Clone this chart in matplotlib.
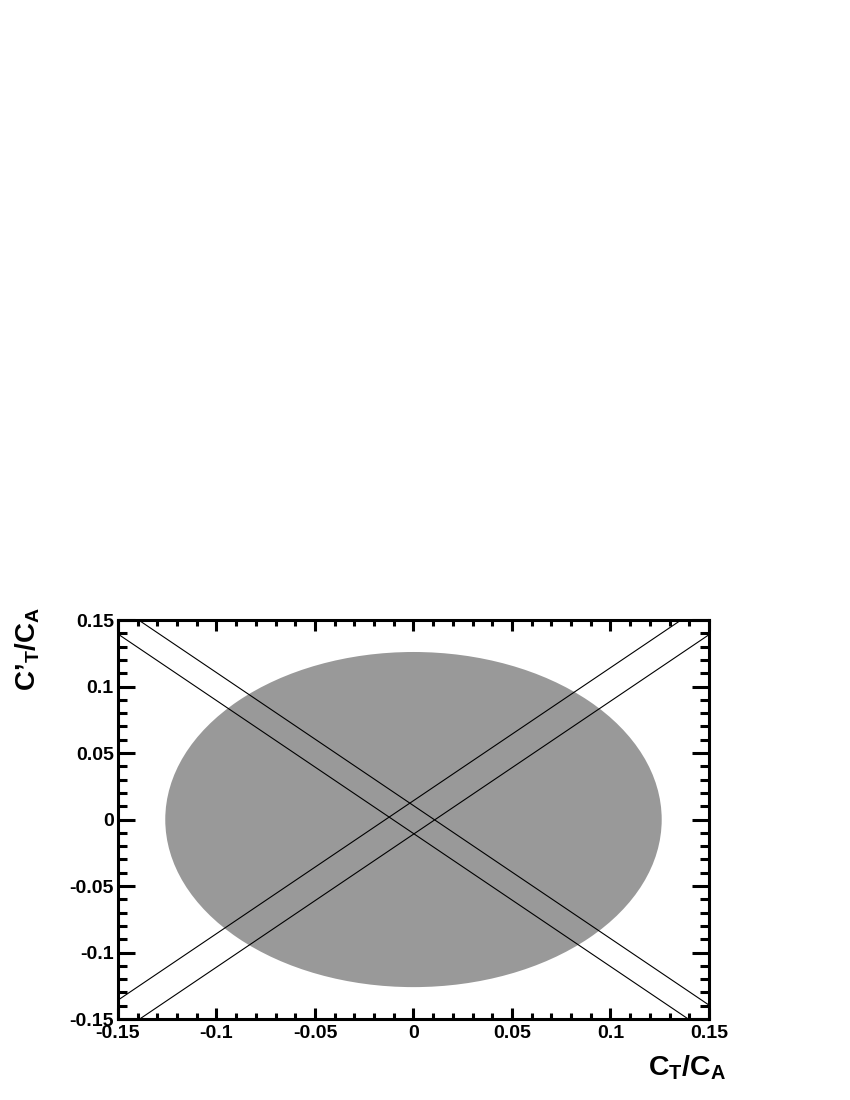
import numpy as np
import matplotlib
matplotlib.use('Agg')
import matplotlib.pyplot as plt
from matplotlib.patches import Ellipse
from matplotlib.ticker import MultipleLocator, FixedLocator

plt.rcParams['font.family'] = ['Liberation Sans', 'DejaVu Sans']
plt.rcParams['font.weight'] = 'bold'
plt.rcParams['mathtext.fontset'] = 'custom'
plt.rcParams['mathtext.rm'] = 'Liberation Sans:bold'
plt.rcParams['mathtext.bf'] = 'Liberation Sans:bold'
plt.rcParams['mathtext.it'] = 'Liberation Sans:bold'

# allowed region (ellipse) in C_T/C_A vs C'_T/C_A
region_center = (0.0, 0.0)
region_radius_x = 0.126
region_radius_y = 0.126

# constraint bands: y = slope * x + intercept
band_slopes = [-1.0, -1.0, 1.0, 1.0]
band_intercepts = [0.0105, -0.0105, 0.0142, -0.011]

x_ticks = [-0.15, -0.1, -0.05, 0, 0.05, 0.1, 0.15]
x_tick_labels = ['-0.15', '-0.1', '-0.05', '0', '0.05', '0.1', '0.15']
y_ticks = [-0.15, -0.1, -0.05, 0, 0.05, 0.1, 0.15]
y_tick_labels = ['-0.15', '-0.1', '-0.05', '0', '0.05', '0.1', '0.15']

fig = plt.figure(figsize=(8.5, 11), dpi=100)
ax = fig.add_axes([0.1388, 0.0736, 0.6953, 0.3627])

ell = Ellipse(region_center, 2 * region_radius_x, 2 * region_radius_y,
              facecolor='#999999', edgecolor='none', zorder=1)
ax.add_patch(ell)

xs = np.array([-0.2, 0.2])
for s, c in zip(band_slopes, band_intercepts):
    ax.plot(xs, s * xs + c, color='black', lw=0.8, zorder=2)

ax.set_xlim(-0.15, 0.15)
ax.set_ylim(-0.15, 0.15)

ax.xaxis.set_major_locator(FixedLocator(x_ticks))
ax.yaxis.set_major_locator(FixedLocator(y_ticks))
ax.set_xticklabels(x_tick_labels, fontsize=14, fontweight='bold')
ax.set_yticklabels(y_tick_labels, fontsize=14, fontweight='bold')
ax.xaxis.set_minor_locator(MultipleLocator(0.01))
ax.yaxis.set_minor_locator(MultipleLocator(0.01))

for sp in ax.spines.values():
    sp.set_linewidth(2.2)
ax.tick_params(axis='x', which='major', direction='in', length=8, width=2.2,
               top=True, bottom=True, pad=4)
ax.tick_params(axis='x', which='minor', direction='in', length=4, width=2.2,
               top=True, bottom=True)
ax.tick_params(axis='y', which='major', direction='in', length=12, width=2.2,
               left=True, right=True, pad=3)
ax.tick_params(axis='y', which='minor', direction='in', length=6.5, width=2.2,
               left=True, right=True)

fig.text(0.855, 0.016, r'$\mathbf{C_{T}/C_{A}}$', fontsize=20.5, ha='right', va='bottom')
fig.text(0.016, 0.448, r'$\mathbf{C’_{T}/C_{A}}$', fontsize=20, rotation=90,
         ha='left', va='top')

plt.savefig('out.png', dpi=100)
